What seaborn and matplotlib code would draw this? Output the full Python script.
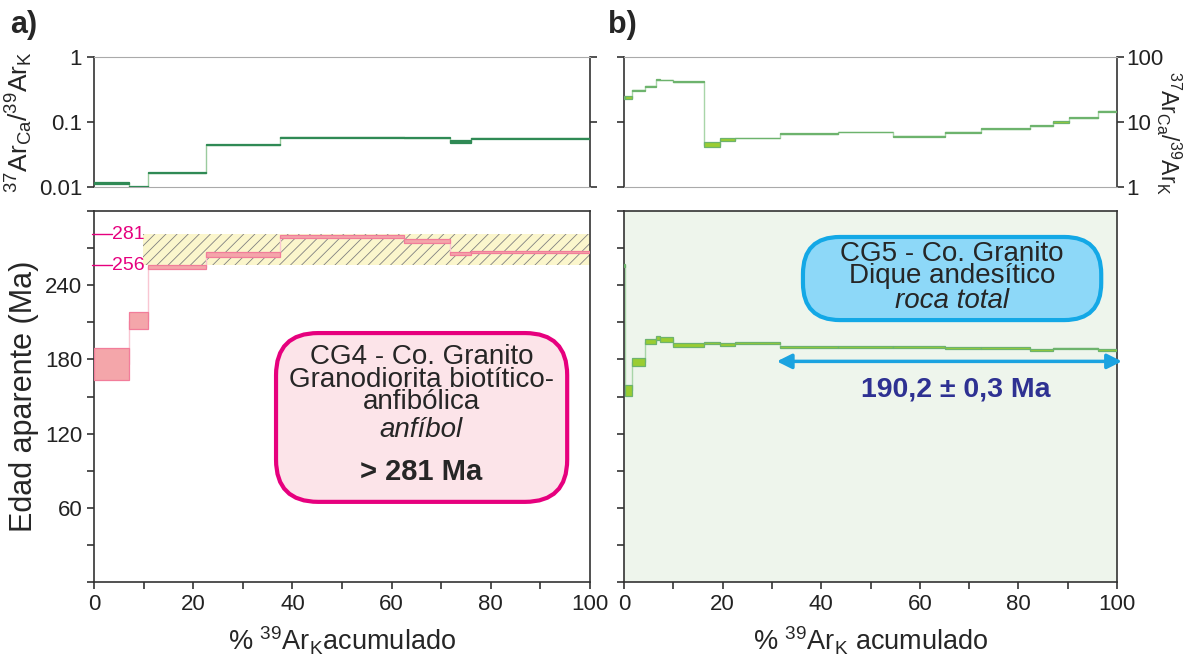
import numpy as np
import pandas as pd
import matplotlib
matplotlib.use("Agg")
import matplotlib.pyplot as plt
import seaborn as sns
from matplotlib.patches import FancyBboxPatch

# a) CG4 anfibol: step limits (% 39Ar acumulado), ages (Ma), errors, 37ArCa/39ArK
cum_a = [0, 7.0, 10.9, 22.6, 37.4, 62.6, 71.7, 76.1, 100]
edad_a = [176.1, 211.3, 254.7, 265.1, 279.3, 275.7, 265.9, 266.7]
err_a = [12.9, 7.1, 1.9, 1.9, 0.9, 1.3, 1.3, 0.9]
cak_a = [0.0117, 0.0100, 0.0167, 0.0446, 0.058, 0.057, 0.050, 0.056]
cak_err_a = [0.0004, 0.0002, 0.0003, 0.0008, 0.0006, 0.0008, 0.0020, 0.0015]
rango_a = [9.9, 100]   # hatched band
lim_a = [256, 281]

# b) CG5 roca total
cum_b = [0, 0.2, 1.6, 4.2, 6.4, 7.4, 9.9, 16.2, 19.4, 22.5, 31.6, 43.5, 54.6,
         65.1, 72.5, 82.4, 87.0, 90.2, 96.1, 100]
edad_b = [256, 155, 178, 194.4, 197.6, 196.4, 191.7, 193.1, 192.4, 193.3, 189.9,
          189.9, 189.8, 189.5, 189.3, 187.7, 188.9, 188.9, 187.7]
err_b = [1.5, 4.3, 3, 2, 1.6, 2, 1.3, 0.9, 1.2, 0.8, 0.8, 0.7, 0.8, 0.8, 0.8, 0.7,
         0.7, 0.7, 0.8]
cak_b = [23.8, 23.8, 30.6, 35.3, 45, 44, 41.8, 4.46, 5.33, 5.67, 6.62, 7.03, 6.01,
         6.95, 7.92, 8.82, 9.93, 11.6, 14.6]
cak_err_b = [0.9, 0.9, 0.5, 0.5, 0.6, 0.5, 0.5, 0.4, 0.3, 0.08, 0.08, 0.08, 0.07,
             0.08, 0.1, 0.25, 0.3, 0.15, 0.2]
plateau_b = [31, 100]
plateau_edad = 178.4   # height of the arrow

sns.set_theme(style="ticks")
plt.rcParams["font.family"] = ["Liberation Sans", "DejaVu Sans"]
plt.rcParams["mathtext.default"] = "regular"
plt.rcParams["hatch.linewidth"] = 0.6


def step_df(cum, val):
    return pd.DataFrame({"x": cum, "y": list(val) + [val[-1]]})


# draws the step line and the error boxes of one spectrum
def plot_spectrum(ax, cum, val, err, face, edge, line):
    val = np.array(val)
    err = np.array(err)
    sns.lineplot(data=step_df(cum, val), x="x", y="y", ax=ax, drawstyle="steps-post",
                 color=line, lw=1, estimator=None)
    ax.bar(cum[:-1], 2 * err, bottom=val - err, width=np.diff(cum), align="edge",
           color=face, edgecolor=edge, linewidth=0.9, zorder=3)
    ax.set_xlabel("")
    ax.set_ylabel("")


def style_axes(ax):
    for s in ax.spines.values():
        s.set_color("#333333")
        s.set_linewidth(1.2)
    ax.tick_params(colors="#222222", labelsize=16, length=5, width=1.1)


fig = plt.figure(figsize=(11.88, 6.57), dpi=100)
W, H = 1188, 657
ax_ta = fig.add_axes([94 / W, 1 - 187 / H, 496 / W, 130 / H])
ax_ba = fig.add_axes([94 / W, 1 - 582 / H, 496 / W, 371 / H])
ax_tb = fig.add_axes([624 / W, 1 - 187 / H, 493 / W, 130 / H])
ax_bb = fig.add_axes([624 / W, 1 - 582 / H, 493 / W, 371 / H])

# --- top panels (Ca/K) ---
plot_spectrum(ax_ta, cum_a, cak_a, cak_err_a, "#2F8A55", "#2F8A55", "#9ACB9E")
plot_spectrum(ax_tb, cum_b, cak_b, cak_err_b, "#9ACD32", "#6DB36D", "#A8D5A8")
for ax in (ax_ta, ax_tb):
    ax.set_yscale("log")
    ax.set_xlim(0, 100)
    ax.set_xticks([])
    ax.minorticks_off()
    style_axes(ax)
    ax.spines["top"].set_color("#aaaaaa")
    ax.spines["bottom"].set_color("#aaaaaa")
    ax.spines["top"].set_linewidth(0.8)
    ax.spines["bottom"].set_linewidth(0.8)

ratio_lbl = r"$^{37}$Ar$_{Ca}$/$^{39}$Ar$_{K}$"
ax_ta.set_ylim(0.01, 1)
ax_ta.set_yticks([0.01, 0.1, 1])
ax_ta.set_yticklabels(["0.01", "0.1", "1"])
ax_ta.tick_params(axis="y", right=True)
ax_ta.set_ylabel(ratio_lbl, fontsize=19, labelpad=3)

ax_tb.set_ylim(1, 100)
ax_tb.set_yticks([1, 10, 100])
ax_tb.set_yticklabels(["1", "10", "100"])
ax_tb.tick_params(axis="y", left=True, right=True, labelleft=False, labelright=True,
                  pad=2)
ax_tb.yaxis.set_label_position("right")
ax_tb.set_ylabel(ratio_lbl, fontsize=16.5, rotation=270, va="center", ha="center")
ax_tb.yaxis.set_label_coords(1.105, 0.42)

# --- bottom panels (age spectra) ---
ax_bb.set_facecolor("#EEF5EC")
ax_ba.fill_between(rango_a, lim_a[0], lim_a[1], facecolor="#FBF6CC",
                   edgecolor="#808080", hatch="///", linewidth=0, zorder=1)
plot_spectrum(ax_ba, cum_a, edad_a, err_a, "#F4A6AA", "#F27D9A", "#F9C6D2")
plot_spectrum(ax_bb, cum_b, edad_b, err_b, "#9ACD32", "#6DB36D", "#A8D5A8")

yt = np.arange(0, 301, 30)
for ax in (ax_ba, ax_bb):
    ax.set_xlim(0, 100)
    ax.set_ylim(0, 300)
    ax.set_xticks(np.arange(0, 101, 10))
    ax.set_xticklabels([str(v) if v % 20 == 0 else "" for v in range(0, 101, 10)])
    ax.set_yticks(yt)
    style_axes(ax)
ax_ba.set_yticklabels([str(v) if v % 60 == 0 and 0 < v < 300 else "" for v in yt])
ax_bb.set_yticklabels([])

ax_ba.set_ylabel("Edad aparente (Ma)", fontsize=22, labelpad=4)
ax_ba.set_xlabel(r"% $^{39}$Ar$_{K}$acumulado", fontsize=19.5, labelpad=7)
ax_bb.set_xlabel(r"% $^{39}$Ar$_{K}$ acumulado", fontsize=19.5, labelpad=7)

# plateau limits in magenta
mag = "#E6007E"
for v in lim_a:
    ax_ba.plot([-0.4, 3.6], [v, v], color=mag, lw=1, clip_on=False, zorder=4)
    ax_ba.text(3.7, v, str(v), color=mag, fontsize=14, va="center", ha="left", zorder=4)

# info box a)
box_a = FancyBboxPatch((0.367, 0.216), 0.587, 0.455, transform=ax_ba.transAxes,
                       boxstyle="round,pad=0,rounding_size=0.085",
                       mutation_aspect=496 / 371, facecolor="#FCE4E9",
                       edgecolor=mag, linewidth=3, zorder=5)
ax_ba.add_patch(box_a)
tx = 0.66
ax_ba.text(tx, 0.545, "CG4 - Co. Granito\nGranodiorita biotítico-\nanfibólica",
           transform=ax_ba.transAxes, fontsize=20, linespacing=0.82,
           ha="center", va="center", zorder=6)
ax_ba.text(tx, 0.410, "anfíbol", transform=ax_ba.transAxes, fontsize=20,
           style="italic", ha="center", va="center", zorder=6)
ax_ba.text(tx, 0.296, "> 281 Ma", transform=ax_ba.transAxes, fontsize=21,
           weight="bold", ha="center", va="center", zorder=6)

# info box b)
box_b = FancyBboxPatch((0.363, 0.706), 0.605, 0.224, transform=ax_bb.transAxes,
                       boxstyle="round,pad=0,rounding_size=0.075",
                       mutation_aspect=493 / 371, facecolor="#8DD8F8",
                       edgecolor="#13A8E6", linewidth=3, zorder=5)
ax_bb.add_patch(box_b)
tx = 0.665
ax_bb.text(tx, 0.854, "CG5 - Co. Granito\nDique andesítico", transform=ax_bb.transAxes,
           fontsize=20, linespacing=0.82, ha="center", va="center", zorder=6)
ax_bb.text(tx, 0.758, "roca total", transform=ax_bb.transAxes, fontsize=20,
           style="italic", ha="center", va="center", zorder=6)

ax_bb.annotate("", xy=(plateau_b[1] + 1, plateau_edad), xytext=(plateau_b[0], plateau_edad),
               arrowprops=dict(arrowstyle="<|-|>", color="#1BA3E0", lw=2.5,
                               mutation_scale=22, shrinkA=0, shrinkB=0),
               annotation_clip=False, zorder=6)
ax_bb.text(0.672, 0.52, "190,2 ± 0,3 Ma", transform=ax_bb.transAxes, fontsize=20.5,
           weight="bold", color="#2E3192", ha="center", va="center", zorder=6)

fig.text(10 / W, 1 - 10 / H, "a)", fontsize=22, weight="bold", va="top", ha="left")
fig.text(608 / W, 1 - 10 / H, "b)", fontsize=22, weight="bold", va="top", ha="left")

fig.savefig("out.png", dpi=100)
